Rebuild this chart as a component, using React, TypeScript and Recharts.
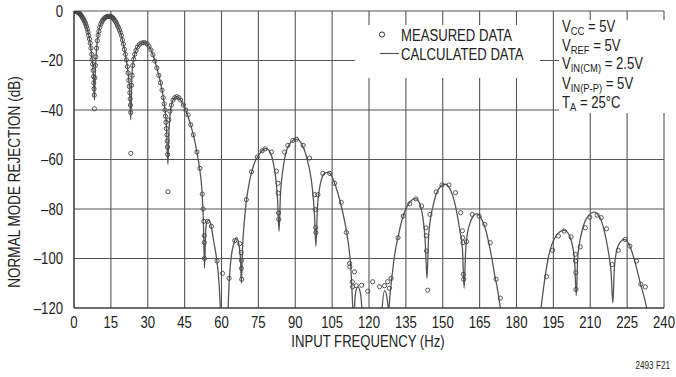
import { ComposedChart, Line, Scatter, XAxis, YAxis, CartesianGrid } from "recharts";

// frequency (Hz), rejection (dB); values below -120 fall off the plot
const calculated: [number, number][] = [
  [0, 0], [1, -0.2], [2, -0.8], [3, -1.9], [4, -3.6], [5, -6], [6, -9.8], [7, -16], [7.5, -20.5], [8, -28], [8.3, -36],
  [8.6, -26], [9.2, -15], [10, -8.5], [11, -5], [12, -3.2], [13, -2.5], [14, -2.2], [15, -2.2], [16, -3], [17, -4.5],
  [18, -6.5], [19, -9], [20, -13], [21, -18], [22, -25], [22.6, -32], [23.1, -44],
  [23.5, -28], [24, -21], [25, -16.5], [26, -14.2], [27, -13.2], [28, -12.8], [29, -12.8], [30, -13.5], [31, -15],
  [32, -17.5], [33, -20.5], [34, -24], [35, -28], [36, -33], [37, -40], [37.6, -47], [38.2, -62],
  [38.7, -47], [39.3, -40], [40, -36.5], [41, -35], [42, -34.6], [43, -35.5], [44, -37], [45, -39], [46, -41.5],
  [47, -44.5], [48, -48], [49, -52], [50, -57], [51, -63], [52, -72], [52.6, -84], [53.1, -104],
  [53.6, -88], [54.2, -85], [55, -84.5], [56, -88], [57, -94], [58, -100], [59, -110], [59.6, -122], [60.5, -160],
  [61.8, -160], [62.7, -120], [63.2, -108], [64, -99], [65, -94], [66, -91.5], [67, -94], [67.7, -100], [68.1, -110],
  [68.5, -97], [69.2, -86], [70.2, -76], [71, -71], [72, -66], [73, -62.5], [74, -60], [75, -58.5], [76, -57], [77, -56],
  [78, -55.6], [79, -56], [80, -57.5], [81, -61], [82, -67], [82.8, -76], [83.4, -89],
  [84, -74], [85, -64], [86, -58], [87, -55], [88, -53.3], [89, -52.3], [90, -51.8], [91, -51.8], [92, -52.8], [93, -54.5],
  [94, -57], [95, -60.5], [96, -65], [97, -72], [97.8, -82], [98.4, -95],
  [99, -80], [100, -71], [101, -67], [102, -65.5], [103, -65.2], [104, -65.6], [105, -67], [106, -69.5], [107, -72.5],
  [108, -76], [109, -80], [110, -84.5], [111, -90], [112, -97], [112.8, -107], [113.3, -118], [113.7, -125],
  [114.5, -114], [115.5, -111.5], [116.5, -114], [117.3, -125], [118, -160], [124, -160], [125.2, -122], [126.4, -113],
  [127.5, -117], [128, -121],
  [128.6, -114], [129.5, -106], [130.5, -98], [131.9, -91], [133, -86], [134, -82.5], [135, -80], [136, -78], [137, -76.8],
  [138, -76], [139, -75.8], [140, -76.5], [141, -79], [142, -84], [142.8, -92], [143.6, -108],
  [144.2, -92], [145, -84], [146, -79], [147, -75], [148, -72.5], [149, -71], [150, -70.2], [151, -70], [152, -70.5],
  [153, -72], [154, -74.5], [155, -78], [156, -83], [157, -89], [158, -96], [158.7, -112],
  [159.3, -97], [160, -90], [161, -86], [162, -83.5], [163, -82.2], [164, -82], [165, -82.8], [166, -84.5], [167, -87],
  [168, -90.5], [169, -95], [170, -100], [171, -106], [172, -111], [173, -117], [174, -125], [176, -160],
  [188, -160], [189.5, -125], [190, -120], [191, -112], [192, -105], [193.3, -98], [194.5, -94], [196, -91], [197.5, -89.3],
  [199, -88.6], [200, -88.7], [201, -89.8], [202, -92], [203, -96], [203.7, -102], [204.3, -115],
  [204.9, -100], [205.6, -94], [206.5, -89.5], [207.5, -86], [208.5, -83.8], [209.5, -82.5], [210.5, -81.6], [211.5, -81.3],
  [212.5, -81.6], [213.5, -82.8], [214.5, -84.8], [215.5, -88], [216.5, -92.5], [217.5, -98], [218.5, -106], [219.2, -118],
  [219.8, -104], [220.5, -98], [221.5, -94.5], [222.5, -93], [223.5, -92.3], [224.5, -92.5], [225.5, -93.8], [226.5, -96],
  [227.5, -99], [228.5, -102.5], [229.5, -106.5], [230.5, -110.5], [231.5, -114], [232.5, -118], [233.2, -122], [234, -135],
];

const measured: [number, number][] = [
  [0, 0], [0.3, -0.05], [0.6, -0.1], [0.9, -0.2], [1.2, -0.3], [1.5, -0.5], [1.8, -0.7], [2.1, -0.9], [2.4, -1.2],
  [2.7, -1.5], [3, -1.9], [3.3, -2.4], [3.6, -2.9], [3.9, -3.4], [4.2, -4], [4.5, -4.7], [4.8, -5.4], [5.1, -6.3],
  [5.4, -7.3], [5.7, -8.5], [6, -9.8], [6.3, -11.3], [6.6, -13], [6.9, -15], [7.2, -17.5], [7.4, -19.5], [7.6, -21.5],
  [7.8, -24], [7.95, -26.5], [8.05, -29], [8.15, -31.5], [8.25, -34], [8.3, -39.5],
  [8.5, -27], [8.7, -22], [8.9, -18.5], [9.2, -15], [9.5, -12], [9.8, -9.8], [10.1, -8.2], [10.5, -6.6], [10.9, -5.3],
  [11.3, -4.4], [11.7, -3.7], [12.1, -3.2], [12.5, -2.8], [12.9, -2.5], [13.3, -2.3], [13.7, -2.2], [14.1, -2.2],
  [14.5, -2.1], [14.9, -2.2], [15.3, -2.4], [15.7, -2.7], [16.1, -3.1], [16.5, -3.7], [16.9, -4.3], [17.3, -5],
  [17.7, -5.9], [18.1, -6.7], [18.5, -7.7], [18.9, -8.7], [19.3, -9.9], [19.7, -11.7], [20.1, -13.4], [20.5, -15.5],
  [20.9, -17.5], [21.3, -19.8], [21.7, -22.5], [22, -25], [22.3, -28], [22.5, -30.5], [22.7, -33], [22.85, -35.5],
  [22.95, -38], [23.05, -41], [23.1, -57.5],
  [23.4, -30], [23.6, -26], [23.9, -22], [24.3, -19.5], [24.7, -17.5], [25.2, -16], [25.8, -14.6], [26.5, -13.6],
  [27.3, -13], [28.1, -12.8], [28.9, -12.8], [29.7, -13.2], [30.5, -14.2], [31.3, -15.7], [32.1, -17.7], [32.9, -20.2],
  [33.7, -23], [34.5, -26], [35.2, -29], [35.8, -32], [36.3, -35], [36.7, -37.5], [37, -40], [37.2, -42.5], [37.4, -45],
  [37.6, -47.5], [37.8, -50], [37.9, -52.5], [38, -55], [38.1, -58], [38.2, -73],
  [38.6, -44], [39, -40.5], [39.6, -38], [40.3, -36], [41, -35], [41.8, -34.6], [42.6, -35], [43.4, -36], [44.5, -38],
  [45.5, -40], [46.4, -42], [47.5, -46], [48.5, -50], [50, -57], [51.2, -63.6], [52.2, -74], [52.5, -80], [52.8, -85],
  [53, -90.8], [53, -93.5], [53.05, -100],
  [54.3, -85], [55.9, -87], [58.2, -101], [60.4, -106], [63.1, -108], [65.4, -92.8], [67.4, -94], [68, -97.6],
  [68.1, -100.8], [68.1, -104], [68.2, -108.4],
  [70.1, -76.2], [72.2, -65], [74.6, -59], [76.5, -56.5], [77.8, -55.7], [80.3, -57], [82.3, -64.7], [83, -69.6],
  [83.1, -73.6], [83.2, -81.6], [83.3, -84.2],
  [85.7, -57], [87, -54.3], [89, -52.3], [90.5, -51.8], [93.2, -54.3], [95.8, -59.4], [97.9, -74.2], [98.2, -80.2],
  [98.3, -87.5], [98.4, -89.5],
  [99.2, -74.2], [101.2, -65.6], [104, -65.6], [106, -69.6], [108.7, -77.3], [110.8, -89.5], [112.1, -102], [112.2, -103.4],
  [113.2, -109.4], [113.3, -111.4], [114.1, -105.4], [114.8, -111], [117, -110.8], [119.5, -113.2], [121.5, -109.4],
  [124.3, -111.4], [126.3, -111], [127.6, -109.4], [128.3, -112], [129, -108],
  [131.8, -91.6], [133.9, -82.9], [136.6, -77.9], [139.1, -75.9], [141.4, -78.8], [143.2, -87.6], [143.3, -90.8],
  [143.4, -97], [143.9, -112.8], [144.8, -82.2], [147.3, -73.1], [149.7, -70.3], [152.5, -70.3], [155.2, -73.4],
  [157.3, -81.5], [158, -88.8], [158.1, -91.6], [158.2, -93.6], [158.4, -106.4], [158.5, -108.4], [159.7, -93.2],
  [162, -82.2], [164.8, -82.9], [167.1, -86.2], [169.3, -93.6], [171.7, -108.4], [173.4, -116],
  [192.2, -107.3], [194.7, -96.7], [197, -90.9], [199.4, -88.9], [202.2, -91.3], [203.9, -98.3], [204, -101],
  [204.1, -105.7], [204.2, -112.5], [205.9, -95.3], [208, -87.6], [209.8, -83.3], [212.8, -82.5], [214.5, -83.5],
  [216.6, -88], [218.9, -102.4], [221.4, -96.7], [224.2, -92.3], [226.1, -95], [228.8, -101], [230.6, -110.4],
  [232.4, -111.5],
];

const xTicks = [0, 15, 30, 45, 60, 75, 90, 105, 120, 135, 150, 165, 180, 195, 210, 225, 240];
const yTicks = [-120, -100, -80, -60, -40, -20, 0];

// Liberation Sans squeezed sideways stands in for the condensed Helvetica of the original
const FONT = '"Liberation Sans", Arial, sans-serif';
const SQ = 0.82;
const INK = "#222";

const toRows = (pts: [number, number][]) => pts.map(([f, db]) => ({ f, db }));
const fmt = (v: number) => (v < 0 ? "\u2013" + Math.abs(v) : String(v));

// condensed text: anchor point (x, baseline y)
const T = ({ x, y, size, anchor = "start", children }: any) => (
  <g transform={`translate(${x},${y}) scale(${SQ},1)`}>
    <text x={0} y={0} fontSize={size} textAnchor={anchor} fontFamily={FONT} fill={INK}>
      {children}
    </text>
  </g>
);

const XTick = (p: any) => (
  <T x={p.x} y={p.y + 11.5} size={16} anchor="middle">{p.payload.value}</T>
);
const YTick = (p: any) => (
  <T x={p.x} y={p.y + 5.8} size={16} anchor="end">{fmt(p.payload.value)}</T>
);

const Ring = (p: any) => (
  <circle cx={p.cx} cy={p.cy} r={2.1} fill="none" stroke="#444" strokeWidth={0.9} />
);

function Overlay() {
  const sub = { fontSize: 11.5 };
  return (
    <svg width={676} height={377} style={{ position: "absolute", left: 0, top: 0, pointerEvents: "none" }}>
      {/* legend */}
      <rect x={355} y={25} width={185} height={53} fill="#fff" />
      <circle cx={382} cy={34.5} r={2.6} fill="none" stroke="#333" strokeWidth={1} />
      <line x1={380} x2={399} y1={53.5} y2={53.5} stroke="#555" strokeWidth={1.2} />
      <T x={401} y={40.5} size={16}>MEASURED DATA</T>
      <T x={401} y={59.5} size={16}>CALCULATED DATA</T>

      {/* test conditions */}
      <rect x={559} y={20} width={110} height={93} fill="#fff" />
      <T x={562} y={32} size={16}>V<tspan {...sub} dy={3}>CC</tspan><tspan dy={-3}> = 5V</tspan></T>
      <T x={562} y={50.5} size={16}>V<tspan {...sub} dy={3}>REF</tspan><tspan dy={-3}> = 5V</tspan></T>
      <T x={562} y={69} size={16}>V<tspan {...sub} dy={3}>IN(CM)</tspan><tspan dy={-3}> = 2.5V</tspan></T>
      <T x={562} y={88.5} size={16}>V<tspan {...sub} dy={3}>IN(P-P)</tspan><tspan dy={-3}> = 5V</tspan></T>
      <T x={562} y={108} size={16}>T<tspan {...sub} dy={3}>A</tspan><tspan dy={-3}> = 25°C</tspan></T>

      {/* axis titles */}
      <g transform="translate(20,182) rotate(-90)">
        <T x={0} y={0} size={16.5} anchor="middle">NORMAL MODE REJECTION (dB)</T>
      </g>
      <T x={368} y={347} size={16} anchor="middle">INPUT FREQUENCY (Hz)</T>
      <T x={670} y={369} size={10} anchor="end">2493 F21</T>
    </svg>
  );
}

export default function App() {
  return (
    <div style={{ position: "absolute", left: 0, top: 0, width: 676, height: 377, background: "#fff" }}>
      <ComposedChart width={676} height={377} margin={{ top: 11, right: 12, bottom: 39, left: 14 }}>
        <CartesianGrid stroke="#555" strokeWidth={1.1} />
        <XAxis
          dataKey="f"
          type="number"
          domain={[0, 240]}
          ticks={xTicks}
          allowDataOverflow
          height={30}
          tickLine={false}
          axisLine={{ stroke: "#333" }}
          tick={XTick}
        />
        <YAxis
          dataKey="db"
          type="number"
          domain={[-120, 0]}
          ticks={yTicks}
          allowDataOverflow
          width={60}
          tickLine={false}
          tickMargin={5}
          axisLine={{ stroke: "#333" }}
          tick={YTick}
        />
        <Line
          data={toRows(calculated)}
          dataKey="db"
          type="monotone"
          stroke="#555"
          strokeWidth={1.3}
          dot={false}
          isAnimationActive={false}
        />
        <Scatter data={toRows(measured)} dataKey="db" shape={Ring} isAnimationActive={false} />
      </ComposedChart>
      <Overlay />
    </div>
  );
}
